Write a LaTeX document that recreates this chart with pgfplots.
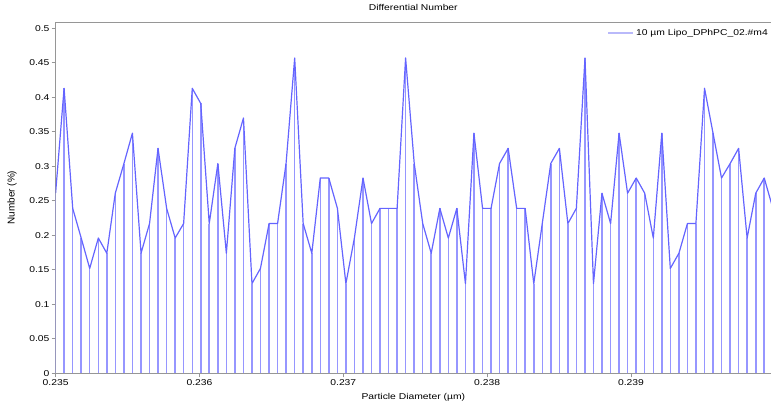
\documentclass[border=0pt]{standalone}
\usepackage{fontspec}
\setmainfont[FakeStretch=1.22]{Liberation Sans}
\newfontfamily\plainsans{Liberation Sans}
\usepackage{pgfplots}
\usepackage{pgfplotstable}
\pgfplotsset{compat=1.18}
\definecolor{combcol}{RGB}{150,150,255}
\definecolor{curvecol}{RGB}{100,100,255}
\definecolor{legcol}{RGB}{185,185,250}
\definecolor{axcol}{RGB}{150,150,150}

\pgfplotstableread{
x y
0.235000 0.261
0.235059 0.413
0.235119 0.239
0.235178 0.196
0.235237 0.152
0.235297 0.196
0.235356 0.174
0.235415 0.261
0.235475 0.304
0.235534 0.348
0.235594 0.174
0.235653 0.217
0.235712 0.326
0.235772 0.239
0.235831 0.196
0.235890 0.217
0.235950 0.413
0.236009 0.391
0.236068 0.217
0.236128 0.304
0.236187 0.174
0.236246 0.326
0.236306 0.370
0.236365 0.130
0.236424 0.152
0.236484 0.217
0.236543 0.217
0.236602 0.304
0.236662 0.457
0.236721 0.217
0.236781 0.174
0.236840 0.283
0.236899 0.283
0.236959 0.239
0.237018 0.130
0.237077 0.196
0.237137 0.283
0.237196 0.217
0.237255 0.239
0.237315 0.239
0.237374 0.239
0.237433 0.457
0.237493 0.304
0.237552 0.217
0.237611 0.174
0.237671 0.239
0.237730 0.196
0.237789 0.239
0.237849 0.130
0.237908 0.348
0.237968 0.239
0.238027 0.239
0.238086 0.304
0.238146 0.326
0.238205 0.239
0.238264 0.239
0.238324 0.130
0.238383 0.217
0.238442 0.304
0.238502 0.326
0.238561 0.217
0.238620 0.239
0.238680 0.457
0.238739 0.130
0.238798 0.261
0.238858 0.217
0.238917 0.348
0.238976 0.261
0.239036 0.283
0.239095 0.261
0.239155 0.196
0.239214 0.348
0.239273 0.152
0.239333 0.174
0.239392 0.217
0.239451 0.217
0.239511 0.413
0.239570 0.348
0.239629 0.283
0.239689 0.304
0.239748 0.326
0.239807 0.196
0.239867 0.261
0.239926 0.283
0.239986 0.239
}\datatable

\begin{document}
\begin{tikzpicture}
\begin{axis}[
  scale only axis,
  width=715.4bp, height=351.3bp,
  xmin=0.235, xmax=0.239973, ymin=0, ymax=0.5091,
  axis x line*=bottom, axis y line*=left,
  axis line style={axcol, line width=0.8bp},
  tick style={axcol, line width=0.7bp},
  tick align=outside, major tick length=4bp,
  xtick={0.235,0.236,0.237,0.238,0.239},
  xticklabels={0.235,0.236,0.237,0.238,0.239},
  ytick={0,0.05,0.1,0.15,0.2,0.25,0.3,0.35,0.4,0.45,0.5},
  yticklabels={0,0.05,0.1,0.15,0.2,0.25,0.3,0.35,0.4,0.45,0.5},
  ticklabel style={font=\fontsize{8.5}{10}\selectfont, inner sep=2bp},
  xlabel={Particle Diameter (µm)},
  ylabel={Number (\%)},
  xlabel style={font=\fontsize{8.5}{10}\selectfont, at={(axis description cs:0.5,0)}, anchor=center, yshift=-24bp},
  ylabel style={font=\plainsans\fontsize{10}{11}\selectfont, at={(axis description cs:-0.061,0.5)}, anchor=center},
  title={Differential Number},
  title style={font=\fontsize{8.5}{10}\selectfont, at={(axis description cs:0.5,1)}, anchor=base, yshift=6bp},
  legend style={draw=none, fill=none, at={(1,1)}, anchor=north east, font=\fontsize{8.5}{10}\selectfont, inner xsep=1bp, inner ysep=2bp, yshift=-3bp},
  legend image code/.code={\draw[#1] (0bp,0bp) -- (25bp,0bp);},
  clip=true,
]
\addplot[ycomb, combcol, line width=1.5bp, forget plot] table[x=x, y=y] {\datatable};
\addplot[curvecol, line width=1.2bp, line join=round, forget plot] table[x=x, y=y] {\datatable};
\addlegendimage{legcol, line width=2bp}
\addlegendentry{10 µm Lipo\_DPhPC\_02.\#m4}
\draw[axcol, line width=0.8bp] (rel axis cs:0,1) -- (rel axis cs:1,1);
\end{axis}
\pgfresetboundingbox
\useasboundingbox (-55.6bp,-30.7bp) rectangle (715.4bp,373.3bp);
\end{tikzpicture}
\end{document}
